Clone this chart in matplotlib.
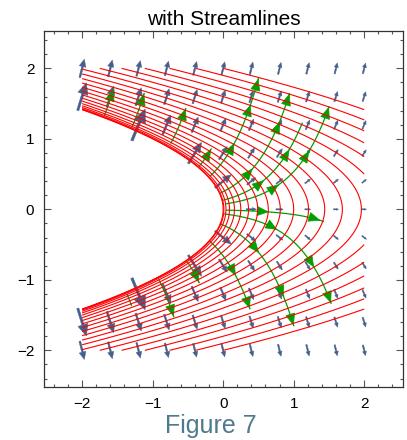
import numpy as np
import matplotlib.pyplot as plt
from matplotlib.ticker import MultipleLocator

plt.rcParams['font.family'] = ['Liberation Sans', 'DejaVu Sans']

# contour values of sqrt(x + y^2)
levels = [0.0, 0.1, 0.2, 0.3, 0.4, 0.5, 0.6, 0.7, 0.8, 0.9, 1.0,
          1.1, 1.2, 1.3, 1.4, 1.5, 1.6, 1.7, 1.8, 1.9, 2.0]

# sample points of the vector field
grid_pts = [-2.0, -1.6, -1.2, -0.8, -0.4, 0.0, 0.4, 0.8, 1.2, 1.6, 2.0]

# streamlines: start point, end x, x of each arrow head
stream_x0 = [-1.68, -1.29, -0.74, -0.34, -0.18, -0.03, 0.00, 0.05,
             0.05, 0.02, -0.02, -0.04, -0.18, -0.51, -0.91, -1.36]
stream_y0 = [1.34, 1.17, 0.94, 0.61, 0.476, 0.236, 0.13, 0.08,
             -0.011, -0.065, -0.137, -0.206, -0.46, -0.74, -1.0, -1.21]
stream_x1 = [-1.56, -1.12, -0.53, -0.17, 0.50, 0.94, 1.12, 1.50,
             1.42, 1.53, 1.12, 1.00, 0.38, -0.34, -0.70, -1.30]
stream_heads = [[-1.56], [-1.12], [-0.53], [-0.17], [0.16, 0.39, 0.50],
                [0.42, 0.80, 0.94], [0.58, 0.94], [0.79, 1.22, 1.50],
                [0.65, 1.38], [0.77, 1.29, 1.53], [0.53, 0.91],
                [0.51, 0.86, 1.00], [0.18, 0.38], [-0.34], [-0.70], []]

red = '#ff0000'
green = '#00a000'
vec_col = '#46608c'


def field(x, y):
    # gradient of sqrt(x + y^2)
    r = np.sqrt(x + y**2)
    return 1 / (2 * r), y / r


def trace(x0, y0, x1, n=300):
    xs = np.linspace(x0, x1, n)
    ys = [y0]
    dx = xs[1] - xs[0]
    for x in xs[:-1]:
        y = ys[-1]
        u, v = field(x, y)
        ym = y + 0.5 * dx * v / u
        u2, v2 = field(x + 0.5 * dx, ym)
        ys.append(y + dx * v2 / u2)
    return xs, np.array(ys)


fig = plt.figure(figsize=(4.07, 4.40), dpi=100)
ax = fig.add_axes([44 / 407, 1 - 387 / 440, 359 / 407, 356 / 440])

# vector field
px_per_unit = 70.6
for gx in grid_pts:
    for gy in grid_pts:
        if gx + gy**2 <= 0.01:
            continue
        u, v = field(gx, gy)
        m = np.hypot(u, v)
        L = 13.0 * m / px_per_unit
        dxu, dyu = u / m * L, v / m * L
        ax.arrow(gx - dxu / 2, gy - dyu / 2, dxu, dyu, width=0.012 + 0.05 * L,
                 head_width=0.36 * L, head_length=0.4 * L,
                 length_includes_head=True, color=vec_col, lw=0.3, zorder=1)

# streamlines
for x0, y0, x1, heads in zip(stream_x0, stream_y0, stream_x1, stream_heads):
    xs, ys = trace(x0, y0, x1)
    ax.plot(xs, ys, color=green, lw=0.9, zorder=2)
    for hx in heads:
        hy = np.interp(hx, xs, ys)
        u, v = field(hx, hy)
        d = np.hypot(u, v)
        ax.annotate('', xy=(hx, hy), xytext=(hx - 0.01 * u / d, hy - 0.01 * v / d),
                    arrowprops=dict(arrowstyle='-|>,head_length=0.6,head_width=0.25',
                                    color=green, lw=0.5, mutation_scale=13,
                                    shrinkA=0, shrinkB=0), zorder=2)

# contour lines
gxs = np.linspace(-2, 2, 500)
X, Y = np.meshgrid(gxs, gxs)
F = X + Y**2
ax.contour(X, Y, F, levels=np.array(levels)**2, colors=red, linewidths=0.8, zorder=3)

ax.set_xlim(-2.54, 2.55)
ax.set_ylim(-2.52, 2.53)
ax.xaxis.set_major_locator(MultipleLocator(1))
ax.yaxis.set_major_locator(MultipleLocator(1))
ax.xaxis.set_minor_locator(MultipleLocator(0.2))
ax.yaxis.set_minor_locator(MultipleLocator(0.2))
ax.tick_params(which='both', direction='in', top=True, right=True,
               color='#555555', labelsize=11, width=0.8)
ax.tick_params(which='major', length=5, pad=7)
ax.tick_params(which='minor', length=2.5)
for s in ax.spines.values():
    s.set_color('#333333')
    s.set_linewidth(0.9)

ax.set_title('with Streamlines', fontsize=15, pad=4)
fig.text(211 / 407, 1 - 433 / 440, 'Figure 7', ha='center', va='baseline',
         fontsize=18, color='#4e7a8e')

fig.savefig('out.png', dpi=100)
